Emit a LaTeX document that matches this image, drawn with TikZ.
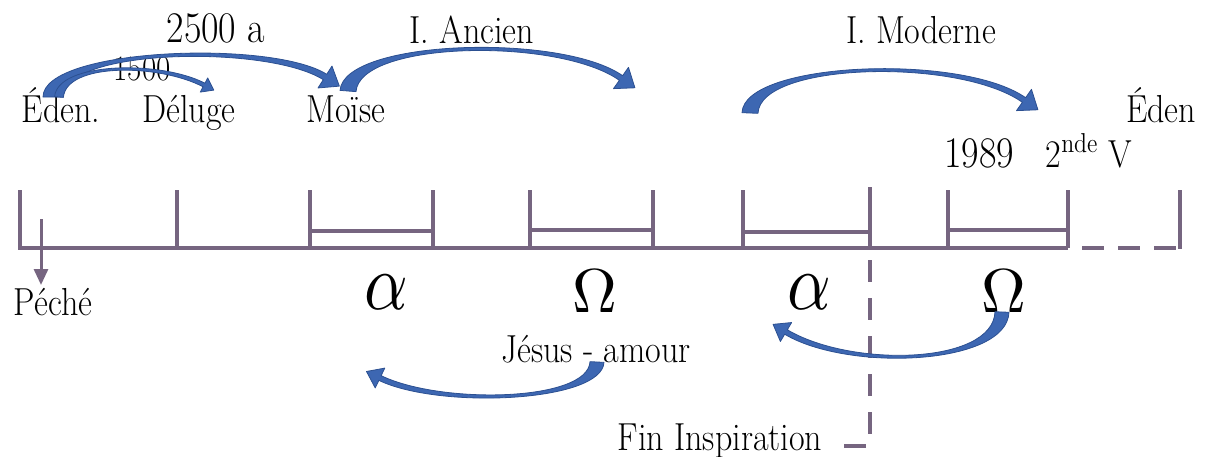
\documentclass[tikz,border=0pt]{standalone}
\usepackage{graphicx}
\usetikzlibrary{calc,arrows.meta}
\definecolor{tl}{RGB}{118,101,128}
\definecolor{ab}{RGB}{61,103,178}
\definecolor{abd}{RGB}{44,80,145}
\tikzset{
  lbl/.style={font=\fontsize{17}{20}\selectfont, inner sep=0pt, anchor=base},
  numlbl/.style={font=\fontsize{19}{22}\selectfont, inner sep=0pt, anchor=base},
  smalllbl/.style={font=\fontsize{15.5}{18}\selectfont, inner sep=0pt, anchor=base},
  greek/.style={inner sep=0pt, anchor=base},
  tline/.style={draw=tl, line width=2pt},
  tdash/.style={draw=tl, line width=2pt, dash pattern=on 11pt off 7pt},
  barrow/.style={fill=ab, draw=abd, line width=0.4pt, line join=round},
}
\newcommand\tall[1]{\scalebox{1}[1.15]{#1}}
\newcommand\carrow[8]{%
  \path[barrow]
  ($(#1)!#5!90:(#2)$) .. controls ($(#2)!#5!-90:(#1)$) and ($(#3)!#6!90:(#4)$) .. ($(#4)!#6!-90:(#3)$)
  -- ($(#4)!#7!-90:(#3)$) -- ($(#4)!#8!180:(#3)$) -- ($(#4)!#7!90:(#3)$)
  -- ($(#4)!#6!90:(#3)$) .. controls ($(#3)!#6!-90:(#4)$) and ($(#2)!#5!90:(#1)$) .. ($(#1)!#5!-90:(#2)$) -- cycle;
}
\begin{document}
\begin{tikzpicture}[x=0.5pt,y=-0.5pt]
\useasboundingbox (0,0) rectangle (1207,456);

% ---- timeline ----
\coordinate (b0) at (20,248);
\coordinate (b1) at (1068,248);
\coordinate (b2) at (1182,248);
\draw[tline] (20,190) -- (b0) -- (b1);
\foreach \x in {177,310,433,530,653,743,948,1068}{
  \draw[tline] (\x,190) -- (\x,248);
}
\draw[tline] (870,187) -- (870,248);
\draw[tline] (1180,190) -- (1180,249);
\draw[tline] (310,231) -- (433,231);
\draw[tline] (530,230) -- (653,230);
\draw[tline] (743,232) -- (870,232);
\draw[tline] (948,230) -- (1068,230);
\draw[tdash, dash phase=11pt] (b1) -- (b2);
\coordinate (fin1) at (870,250);
\coordinate (fin2) at (870,446);
\coordinate (fin3) at (838,446);
\draw[tdash, dash pattern=on 11pt off 8pt, dash phase=14pt] (fin1) -- (fin2) -- (fin3);

% Peche arrow
\coordinate (pa) at (41,219);
\coordinate (pb) at (41,285);
\draw[draw=tl, line width=1.5pt, -{Triangle[width=7pt,length=8pt]}] (pa) -- (pb);

% ---- labels ----
\node[numlbl] (t2500) at (216,42) {\tall{2500 a}};
\node[smalllbl] (t1500) at (142,80) {\tall{1500}};
\node[lbl] (eden1) at (61,122) {\tall{Éden.}};
\node[lbl] (deluge) at (189,122) {\tall{Déluge}};
\node[lbl] (moise) at (346,122) {\tall{Moïse}};
\node[lbl] (ancien) at (472,43) {\tall{I. Ancien}};
\node[lbl] (moderne) at (921,43) {\tall{I. Moderne}};
\node[lbl] (eden2) at (1161,122) {\tall{Éden}};
\node[numlbl] (y1989) at (979,167) {\tall{1989}};
\node[lbl] (snde) at (1089,167) {\tall{2\textsuperscript{nde} V}};
\node[lbl] (peche) at (53,315) {\tall{Péché}};
\node[lbl] (jesus) at (596,362) {\tall{Jésus - amour}};
\node[lbl] (fin) at (720,450) {\tall{Fin Inspiration}};

\node[greek] (al1) at (386,309) {\scalebox{3.4}[4]{$\alpha$}};
\node[greek] (om1) at (595,312) {\scalebox{3.1}{$\Omega$}};
\node[greek] (al2) at (809,309) {\scalebox{3.4}[4]{$\alpha$}};
\node[greek] (om2) at (1004,312) {\scalebox{3.1}{$\Omega$}};

% ---- blue curved arrows ----
% Eden -> Moise
\carrow{53,97}{53,48}{270,42}{325,77}{5pt}{1.6pt}{6.5pt}{8.5pt}
% Eden -> Deluge
\carrow{59,97}{62,62}{160,62}{204,85}{2.2pt}{1pt}{4pt}{5.5pt}
% Moise -> I. Ancien
\carrow{348,91}{352,40}{560,35}{621,78}{4pt}{1.4pt}{6.5pt}{8.5pt}
% I. Moderne
\carrow{750,113}{752,62}{960,55}{1024,100}{4pt}{1.4pt}{6.5pt}{8.5pt}
% Jesus -> alpha
\carrow{597,362}{595,402}{440,407}{380,378}{3.5pt}{1.3pt}{5.5pt}{7.5pt}
% Omega -> alpha
\carrow{1002,312}{1000,365}{850,370}{786,332}{3.5pt}{1.3pt}{5.5pt}{7.5pt}
\end{tikzpicture}
\end{document}
